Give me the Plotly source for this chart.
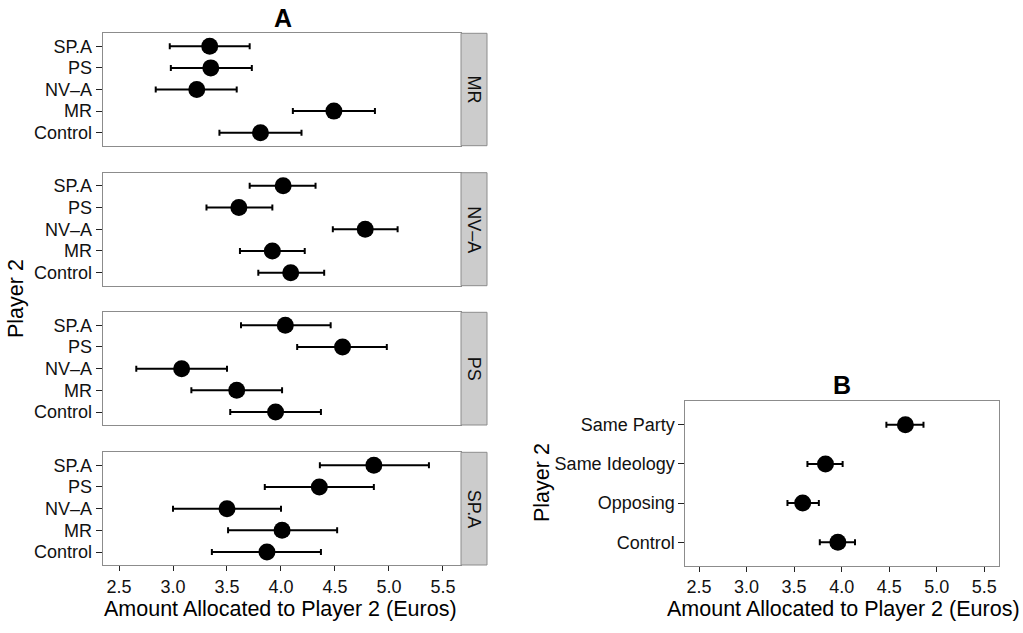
import plotly.graph_objects as go

# ---------------- data ----------------
categories_a = ["SP.A", "PS", "NV–A", "MR", "Control"]
facets = ["MR", "NV–A", "PS", "SP.A"]

mean_mr = [3.34, 3.35, 3.22, 4.49, 3.81]
lo_mr = [2.97, 2.98, 2.84, 4.11, 3.43]
hi_mr = [3.71, 3.73, 3.59, 4.87, 4.19]

mean_nva = [4.02, 3.61, 4.78, 3.92, 4.09]
lo_nva = [3.71, 3.31, 4.48, 3.62, 3.79]
hi_nva = [4.32, 3.92, 5.08, 4.22, 4.40]

mean_ps = [4.04, 4.57, 3.08, 3.59, 3.95]
lo_ps = [3.63, 4.15, 2.66, 3.17, 3.53]
hi_ps = [4.46, 4.98, 3.50, 4.01, 4.37]

mean_spa = [4.86, 4.355, 3.50, 4.01, 3.87]
lo_spa = [4.36, 3.85, 3.00, 3.51, 3.36]
hi_spa = [5.37, 4.86, 4.00, 4.52, 4.37]

categories_b = ["Same Party", "Same Ideology", "Opposing", "Control"]
mean_b = [4.67, 3.83, 3.59, 3.96]
lo_b = [4.47, 3.64, 3.43, 3.77]
hi_b = [4.86, 4.01, 3.76, 4.14]

x_ticks = [2.5, 3.0, 3.5, 4.0, 4.5, 5.0, 5.5]
x_tick_text = ["2.5", "3.0", "3.5", "4.0", "4.5", "5.0", "5.5"]
x_title = "Amount Allocated to Player 2 (Euros)"
y_title = "Player 2"

# ---------------- geometry ----------------
W, H = 1023, 633
FONT = "Liberation Sans, Arial, Helvetica, sans-serif"


def xd(l, r):
    return [l / W, r / W]


def yd(top, bot):
    return [1 - bot / H, 1 - top / H]


panels_a = [(33.3, 145.7), (172.7, 285.7), (312.3, 425.0), (452.3, 565.0)]
ax_l, ax_r, strip_r = 102.7, 461.0, 487.0
xr = [2.349, 5.667]

fig = go.Figure()

series = [(mean_mr, lo_mr, hi_mr), (mean_nva, lo_nva, hi_nva),
          (mean_ps, lo_ps, hi_ps), (mean_spa, lo_spa, hi_spa)]

border = "#8c8c8c"
tickfont = dict(family=FONT, size=18, color="#111111")


def ann(x, y, text, font, angle=0):
    fig.add_annotation(x=x / W, y=1 - y / H, xref="paper", yref="paper",
                       text=text, textangle=angle, showarrow=False,
                       xanchor="center", yanchor="middle", font=font)


for i, (m, lo, hi) in enumerate(series):
    idx = "" if i == 0 else str(i + 1)
    fig.add_trace(go.Scatter(
        x=m, y=categories_a, mode="markers",
        marker=dict(size=17, color="black"),
        error_x=dict(type="data", symmetric=False,
                     array=[h - v for h, v in zip(hi, m)],
                     arrayminus=[v - l for v, l in zip(m, lo)],
                     color="black", thickness=2, width=3),
        xaxis="x" + idx, yaxis="y" + idx, showlegend=False,
        hoverinfo="skip"))
    top, bot = panels_a[i]
    last = i == len(series) - 1
    fig.layout["xaxis" + idx] = dict(
        domain=xd(ax_l, ax_r), anchor="y" + idx, range=xr,
        tickvals=x_ticks, ticktext=x_tick_text,
        showticklabels=last, ticks="outside" if last else "",
        ticklen=5, tickwidth=1.2, tickcolor="#222222",
        showgrid=False, zeroline=False,
        showline=True, mirror=True, linecolor=border, linewidth=1,
        tickfont=tickfont)
    fig.layout["yaxis" + idx] = dict(
        domain=yd(top, bot), anchor="x" + idx,
        type="category", categoryorder="array",
        categoryarray=categories_a[::-1], range=[-0.6, 4.6],
        tickmode="array", tickvals=categories_a, ticktext=categories_a,
        ticks="outside", ticklen=6, tickwidth=1.2, tickcolor="#222222",
        showgrid=False, zeroline=False,
        showline=True, mirror=True, linecolor=border, linewidth=1,
        tickfont=tickfont)
    # strip
    fig.add_shape(type="rect", xref="paper", yref="paper",
                  x0=ax_r / W, x1=strip_r / W, y0=1 - bot / H, y1=1 - top / H,
                  fillcolor="#cccccc", line=dict(color=border, width=1))
    ann((ax_r + strip_r) / 2, (top + bot) / 2, facets[i],
        dict(family=FONT, size=18, color="#111111"), angle=90)

# panel B
fig.add_trace(go.Scatter(
    x=mean_b, y=categories_b, mode="markers",
    marker=dict(size=17, color="black"),
    error_x=dict(type="data", symmetric=False,
                 array=[h - v for h, v in zip(hi_b, mean_b)],
                 arrayminus=[v - l for v, l in zip(mean_b, lo_b)],
                 color="black", thickness=2, width=3),
    xaxis="x5", yaxis="y5", showlegend=False, hoverinfo="skip"))
fig.layout["xaxis5"] = dict(
    domain=xd(685.3, 999.0), anchor="y5", range=[2.356, 5.654],
    tickvals=x_ticks, ticktext=x_tick_text,
    ticks="outside", ticklen=5, tickwidth=1.2, tickcolor="#222222",
    showgrid=False, zeroline=False,
    showline=True, mirror=True, linecolor=border, linewidth=1,
    tickfont=tickfont)
fig.layout["yaxis5"] = dict(
    domain=yd(401.3, 565.7), anchor="x5",
    type="category", categoryorder="array",
    categoryarray=categories_b[::-1], range=[-0.6, 3.6],
    tickmode="array", tickvals=categories_b, ticktext=categories_b,
    ticks="outside", ticklen=6, tickwidth=1.2, tickcolor="#222222",
    showgrid=False, zeroline=False,
    showline=True, mirror=True, linecolor=border, linewidth=1,
    tickfont=tickfont)

# titles and axis titles
title_font = dict(family=FONT, size=25, color="black")
axis_font = dict(family=FONT, size=21.5, color="black")
ann(283, 18, "<b>A</b>", title_font)
ann(842, 385, "<b>B</b>", title_font)
ann(280, 609, x_title, axis_font)
ann(843, 609, x_title, axis_font)
ann(16, 299, y_title, axis_font, angle=-90)
ann(542, 483, y_title, axis_font, angle=-90)

fig.update_layout(width=W, height=H, margin=dict(l=0, r=0, t=0, b=0),
                  paper_bgcolor="white", plot_bgcolor="white",
                  font=dict(family=FONT))

fig.write_html("out.html", config={"displayModeBar": False},
               post_script="document.body.style.margin='0px';")
